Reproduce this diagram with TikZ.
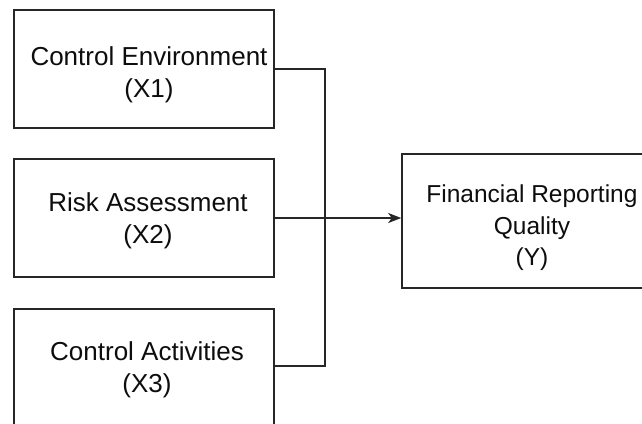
\documentclass[tikz,border=0pt]{standalone}
\usepackage{fontspec}
\setmainfont{Liberation Sans}
\usetikzlibrary{arrows.meta}
\begin{document}
\begin{tikzpicture}[x=1pt,y=-1pt,
  box/.style={draw=black!85, line width=1.6pt, rectangle, inner sep=0pt},
  lbl/.style={align=center, inner sep=0pt, font=\fontsize{26}{32}\selectfont, text=black!95},
  conn/.style={draw=black!85, line width=1.6pt},
  arr/.style={conn, -{Stealth[length=13pt,width=10pt,inset=3.5pt]}}]
\clip (0,0) rectangle (642,423);
\fill[white] (0,0) rectangle (642,423);
\node[box, minimum width=260pt, minimum height=118pt] (x1) at (144,69) {};
\node[box, minimum width=260pt, minimum height=118pt] (x2) at (144,218) {};
\node[box, minimum width=260pt, minimum height=120pt] (x3) at (144,369) {};
\node[box, minimum width=260pt, minimum height=134pt] (y) at (532,221) {};
\node[lbl] (x1t) at ([xshift=5pt,yshift=-6pt]x1.center) {Control Environment\\(X1)};
\node[lbl] (x2t) at ([xshift=4pt,yshift=-3pt]x2.center) {Risk Assessment\\(X2)};
\node[lbl] (x3t) at ([xshift=3pt,yshift=-1pt]x3.center) {Control Activities\\(X3)};
\node[lbl, font=\fontsize{24.5}{31.5}\selectfont] (yt) at ([yshift=-7pt]y.center) {Financial Reporting\\Quality\\(Y)};
\coordinate (jn) at (325,218);
\draw[conn] (x1.east) -| (jn);
\draw[conn] ([yshift=3pt]x3.east) -| (jn);
\draw[arr] (x2.east) -- (x2.east -| y.west);
\end{tikzpicture}
\end{document}
